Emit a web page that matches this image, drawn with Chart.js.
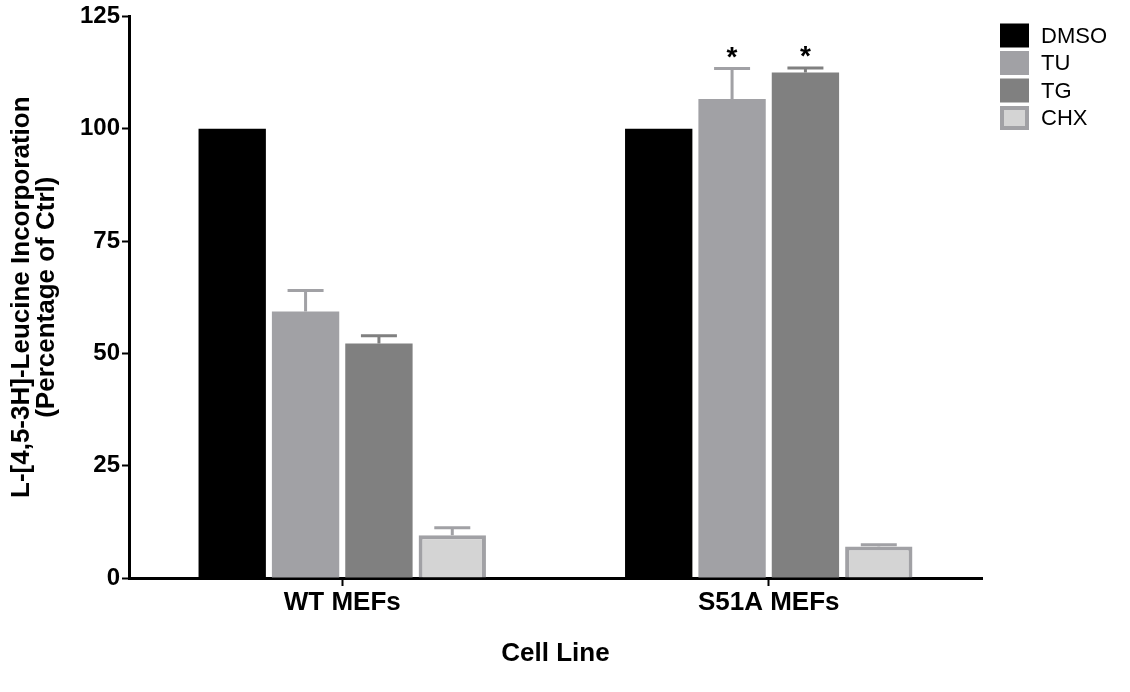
<!DOCTYPE html>
<html>
<head>
<meta charset="utf-8">
<script src="https://cdn.jsdelivr.net/npm/chart.js@4"></script>
<style>
  html, body { margin: 0; padding: 0; background: #fff; }
  #wrap { width: 1130px; height: 692px; }
</style>
</head>
<body>
<div id="wrap"><canvas id="c" width="1130" height="692"></canvas></div>
<script>
// Cell lines on the x axis
const categories = ['WT MEFs', 'S51A MEFs'];

// Treatment means (percentage of control)
const dmso = [100, 100];
const tu   = [59.3, 106.6];
const tg   = [52.2, 112.5];
const chx  = [9.5, 7.0];

// Upper error (SEM) for each treatment
const dmsoErr = [0, 0];
const tuErr   = [4.7, 6.8];
const tgErr   = [1.7, 1.0];
const chxErr  = [1.7, 0.4];

// Significance marks drawn above the error caps
const dmsoSig = ['', ''];
const tuSig   = ['', '*'];
const tgSig   = ['', '*'];
const chxSig  = ['', ''];

// Y axis tick values
const yTicks = [0, 25, 50, 75, 100, 125];

const FONT = "'Liberation Sans', Arial, Helvetica, sans-serif";

const series = [
  { label: 'DMSO', data: dmso, err: dmsoErr, sig: dmsoSig, fill: '#000000', edge: '#000000', border: 0 },
  { label: 'TU',   data: tu,   err: tuErr,   sig: tuSig,   fill: '#a1a1a5', edge: '#a1a1a5', border: 0 },
  { label: 'TG',   data: tg,   err: tgErr,   sig: tgSig,   fill: '#808080', edge: '#808080', border: 0 },
  { label: 'CHX',  data: chx,  err: chxErr,  sig: chxSig,  fill: '#d4d4d4', edge: '#a1a1a5', border: 4 }
];

// Error bars (upper whisker + cap) and significance stars
const errorBars = {
  id: 'errorBars',
  afterDatasetsDraw(chart) {
    const ctx = chart.ctx;
    const y = chart.scales.y;
    chart.data.datasets.forEach((ds, di) => {
      const meta = chart.getDatasetMeta(di);
      meta.data.forEach((bar, i) => {
        const e = ds.errorUp[i];
        const top = y.getPixelForValue(ds.data[i] + e);
        ctx.save();
        if (e > 0) {
          ctx.strokeStyle = ds.borderColor;
          ctx.lineWidth = 3;
          ctx.lineCap = 'butt';
          ctx.beginPath();
          ctx.moveTo(bar.x, bar.y);
          ctx.lineTo(bar.x, top);
          ctx.moveTo(bar.x - 18, top);
          ctx.lineTo(bar.x + 18, top);
          ctx.stroke();
        }
        const s = ds.sig[i];
        if (s) {
          ctx.fillStyle = '#000';
          ctx.font = 'bold 28px ' + FONT;
          ctx.textAlign = 'center';
          ctx.textBaseline = 'alphabetic';
          ctx.fillText(s, bar.x, top - 3);
        }
        ctx.restore();
      });
    });
  }
};

// Legend block at the top right
const sideLegend = {
  id: 'sideLegend',
  afterDraw(chart) {
    const ctx = chart.ctx;
    const x0 = 1000, y0 = 23.5, w = 29, h = 24, pitch = 27.5;
    ctx.save();
    chart.data.datasets.forEach((ds, i) => {
      const yy = y0 + i * pitch;
      ctx.fillStyle = ds.backgroundColor;
      ctx.fillRect(x0, yy, w, h);
      if (ds.borderWidth > 0) {
        const b = ds.borderWidth;
        ctx.strokeStyle = ds.borderColor;
        ctx.lineWidth = b;
        ctx.strokeRect(x0 + b / 2, yy + b / 2, w - b, h - b);
      }
      ctx.fillStyle = '#000';
      ctx.font = '22px ' + FONT;
      ctx.textAlign = 'left';
      ctx.textBaseline = 'middle';
      ctx.fillText(ds.label, 1041, yy + h / 2 + 1);
    });
    ctx.restore();
  }
};

new Chart(document.getElementById('c'), {
  type: 'bar',
  data: {
    labels: categories,
    datasets: series.map(s => ({
      label: s.label,
      data: s.data,
      errorUp: s.err,
      sig: s.sig,
      backgroundColor: s.fill,
      borderColor: s.edge,
      borderWidth: s.border,
      categoryPercentage: 0.688,
      barPercentage: 0.918
    }))
  },
  options: {
    responsive: false,
    animation: false,
    devicePixelRatio: 1,
    layout: { padding: { top: 15, right: 148, bottom: 0, left: 0 } },
    plugins: {
      legend: { display: false },
      tooltip: { enabled: false }
    },
    scales: {
      x: {
        offset: true,
        grid: {
          offset: false,
          drawOnChartArea: false,
          drawTicks: true,
          tickLength: 8,
          tickWidth: 2,
          tickColor: '#000'
        },
        border: { display: true, color: '#000', width: 3 },
        ticks: {
          color: '#000',
          padding: 1,
          font: { family: FONT, size: 26, weight: 'bold' }
        },
        title: {
          display: true,
          text: 'Cell Line',
          color: '#000',
          padding: { top: 0, bottom: 23 },
          font: { family: FONT, size: 26, weight: 'bold' }
        },
        afterFit(scale) { scale.height = 114; }
      },
      y: {
        min: 0,
        max: 125,
        afterBuildTicks(scale) { scale.ticks = yTicks.map(v => ({ value: v })); },
        grid: {
          drawOnChartArea: false,
          drawTicks: true,
          tickLength: 7,
          tickWidth: 2,
          tickColor: '#000'
        },
        border: { display: true, color: '#000', width: 3 },
        ticks: {
          color: '#000',
          padding: 2,
          font: { family: FONT, size: 24, weight: 'bold' }
        },
        title: {
          display: true,
          text: ['L-[4,5-3H]-Leucine Incorporation', '(Percentage of Ctrl)'],
          color: '#000',
          padding: { top: 9, bottom: 0 },
          font: { family: FONT, size: 26, weight: 'bold', lineHeight: '25px' }
        },
        afterFit(scale) { scale.width = 129; }
      }
    }
  },
  plugins: [errorBars, sideLegend]
});
</script>
</body>
</html>
